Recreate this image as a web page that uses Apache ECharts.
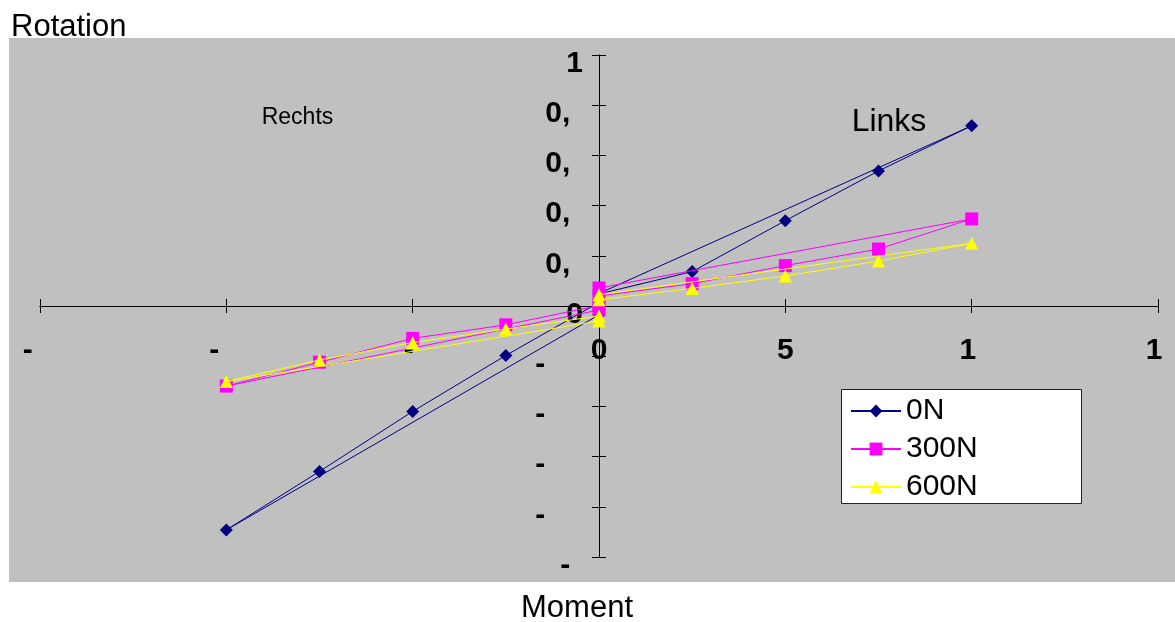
<!DOCTYPE html>
<html><head><meta charset="utf-8">
<script src="https://cdn.jsdelivr.net/npm/echarts@6/dist/echarts.min.js"></script>
<style>html,body{margin:0;padding:0;background:#fff}#c{width:1175px;height:622px}</style>
</head><body><div id="c"></div>
<script>
// ---- data ----
const xTickLabels = ['-15', '-10', '-5', '0', '5', '10', '15'];
const xTickShown  = ['-', '-', '-', '0', '5', '1', '1'];
const yTickLabels = ['-1', '-0,8', '-0,6', '-0,4', '-0,2', '0', '0,2', '0,4', '0,6', '0,8', '1'];
const yTickShown  = ['-', '-', '-', '-', '-', '0', '0,', '0,', '0,', '0,', '1'];

const seriesNames = ['0N', '300N', '600N'];
const momentPos = [0, 2.5, 5, 7.5, 10, 0];
const momentNeg = [0, -2.5, -5, -7.5, -10, 0];
const rot0N_pos   = [0.048, 0.137, 0.340, 0.538, 0.718, 0.050];
const rot0N_neg   = [0.014, -0.197, -0.420, -0.659, -0.892, -0.035];
const rot300N_pos = [0.040, 0.089, 0.161, 0.227, 0.347, 0.072];
const rot300N_neg = [0.002, -0.075, -0.129, -0.224, -0.319, -0.016];
const rot600N_pos = [0.025, 0.070, 0.120, 0.179, 0.250, 0.045];
const rot600N_neg = [-0.040, -0.092, -0.146, -0.215, -0.301, -0.060];

// ---- chart ----
const FONT = '"Liberation Sans", Arial, sans-serif';
const xMin = -15, xMax = 15, xInt = 5;
const yMin = -1, yMax = 1, yInt = 0.2;

const ctx = document.createElement('canvas').getContext('2d');
ctx.font = 'bold 30px "Liberation Sans"';
function tw(t) { return ctx.measureText(t).width; }

// Tick labels are clipped in the original: only the leading part of each full label shows,
// placed where the full label would sit.
const xRich = {}, yRich = {};
xTickLabels.forEach((t, i) => {
  xRich['x' + i] = { width: Math.max(tw(xTickShown[i]), tw(t) - 9), align: 'left', fontSize: 30, fontWeight: 'bold', fontFamily: FONT, color: '#000' };
});
yTickLabels.forEach((t, i) => {
  yRich['y' + i] = { width: Math.max(tw(yTickShown[i]), tw(t) - 4), align: 'left', fontSize: 30, fontWeight: 'bold', fontFamily: FONT, color: '#000' };
});

function pairs(xs, ys) { return xs.map((x, i) => [x, ys[i]]); }

const styles = [
  { color: '#000080', symbol: 'diamond', size: 13 },
  { color: '#FF00FF', symbol: 'rect', size: 13 },
  { color: '#FFFF00', symbol: 'triangle', size: 13 }
];
const branches = [
  [rot0N_pos, rot0N_neg],
  [rot300N_pos, rot300N_neg],
  [rot600N_pos, rot600N_neg]
];

const series = [];
seriesNames.forEach((name, k) => {
  const st = styles[k];
  [[momentPos, branches[k][0]], [momentNeg, branches[k][1]]].forEach(([xs, ys]) => {
    series.push({
      name: name,
      type: 'line',
      xAxisIndex: 0, yAxisIndex: 0,
      data: pairs(xs, ys),
      symbol: st.symbol,
      symbolSize: st.size,
      showSymbol: true,
      itemStyle: { color: st.color, borderWidth: 0 },
      lineStyle: { color: st.color, width: 1 },
      emphasis: { disabled: true },
      z: 2 + k
    });
  });
});

const tickStyle = { lineStyle: { color: '#000', width: 1 } };
const lineStyleAx = { color: '#000', width: 1 };
const hidden = { show: false };

const option = {
  animation: false,
  backgroundColor: '#fff',
  grid: [
    // main plot
    { left: 40, right: 17, top: 55, bottom: 65, containLabel: false, outerBoundsMode: 'none' },
    // helper grid whose bottom edge sits on the zero line (x tick labels)
    { left: 40, right: 17, top: 55, height: 251, containLabel: false, outerBoundsMode: 'none' },
    // helper grid whose left edge sits on the zero line (y tick labels)
    { left: 600, right: 17, top: 55, bottom: 65, containLabel: false, outerBoundsMode: 'none' }
  ],
  xAxis: [
    {
      gridIndex: 0, type: 'value', min: xMin, max: xMax, interval: xInt, position: 'bottom',
      axisLine: { show: true, onZero: true, lineStyle: lineStyleAx },
      axisTick: Object.assign({ show: true, length: 7, inside: false }, tickStyle),
      splitLine: hidden, axisLabel: hidden
    },
    {
      gridIndex: 0, type: 'value', min: xMin, max: xMax, interval: xInt, position: 'top',
      axisLine: { show: true, onZero: true, lineStyle: lineStyleAx },
      axisTick: Object.assign({ show: true, length: 7, inside: false }, tickStyle),
      splitLine: hidden, axisLabel: hidden
    },
    {
      gridIndex: 1, type: 'value', min: xMin, max: xMax, interval: xInt, position: 'bottom',
      axisLine: { show: false, onZero: false }, axisTick: hidden, splitLine: hidden,
      axisLabel: {
        show: true, margin: 30, showMinLabel: true, showMaxLabel: true, hideOverlap: false,
        formatter: function (v) { const i = Math.round((v - xMin) / xInt); return '{x' + i + '|' + xTickShown[i] + '}'; },
        rich: xRich
      }
    },
    {
      gridIndex: 2, type: 'value', min: xMin, max: xMax, show: false,
      axisLine: { onZero: false }
    }
  ],
  yAxis: [
    {
      gridIndex: 0, type: 'value', min: yMin, max: yMax, interval: yInt, position: 'left',
      axisLine: { show: true, onZero: true, lineStyle: lineStyleAx },
      axisTick: Object.assign({ show: true, length: 7, inside: false }, tickStyle),
      splitLine: hidden, axisLabel: hidden
    },
    {
      gridIndex: 0, type: 'value', min: yMin, max: yMax, interval: yInt, position: 'right',
      axisLine: { show: true, onZero: true, lineStyle: lineStyleAx },
      axisTick: Object.assign({ show: true, length: 7, inside: false }, tickStyle),
      splitLine: hidden, axisLabel: hidden
    },
    {
      gridIndex: 1, type: 'value', min: yMin, max: yMax, show: false,
      axisLine: { onZero: false }
    },
    {
      gridIndex: 2, type: 'value', min: yMin, max: yMax, interval: yInt, position: 'left',
      axisLine: { show: false, onZero: false }, axisTick: hidden, splitLine: hidden,
      axisLabel: {
        show: true, margin: 17, showMinLabel: true, showMaxLabel: true, hideOverlap: false,
        padding: [17, 0, 0, 0],
        formatter: function (v) { const i = Math.round((v - yMin) / yInt); return '{y' + i + '|' + yTickShown[i] + '}'; },
        rich: yRich
      }
    }
  ],
  legend: {
    data: seriesNames,
    orient: 'vertical',
    left: 850, top: 396,
    padding: 0,
    itemWidth: 50, itemHeight: 16, itemGap: 8,
    selectedMode: false,
    textStyle: { fontSize: 30, lineHeight: 30, fontFamily: FONT, color: '#000' },
    z: 6
  },
  graphic: [
    { type: 'rect', z: -10, silent: true, shape: { x: 9, y: 38, width: 1166, height: 544 }, style: { fill: '#C0C0C0' } },
    { type: 'rect', z: 5, silent: true, shape: { x: 841.5, y: 389.5, width: 240, height: 114 }, style: { fill: '#fff', stroke: '#222', lineWidth: 1 } },
    { type: 'text', silent: true, x: 11, y: 27, style: { text: 'Rotation', font: '31px ' + FONT, fill: '#000', textAlign: 'left', textVerticalAlign: 'middle' } },
    { type: 'text', silent: true, x: 577, y: 608, style: { text: 'Moment', font: '31px ' + FONT, fill: '#000', textAlign: 'center', textVerticalAlign: 'middle' } },
    { type: 'text', silent: true, z: 4, x: 297.5, y: 118, style: { text: 'Rechts', font: '23px ' + FONT, fill: '#000', textAlign: 'center', textVerticalAlign: 'middle' } },
    { type: 'text', silent: true, z: 4, x: 889, y: 122, style: { text: 'Links', font: '32px ' + FONT, fill: '#000', textAlign: 'center', textVerticalAlign: 'middle' } }
  ],
  series: series
};

const chart = echarts.init(document.getElementById('c'), null, { renderer: 'canvas' });
chart.setOption(option);
</script>
</body></html>
